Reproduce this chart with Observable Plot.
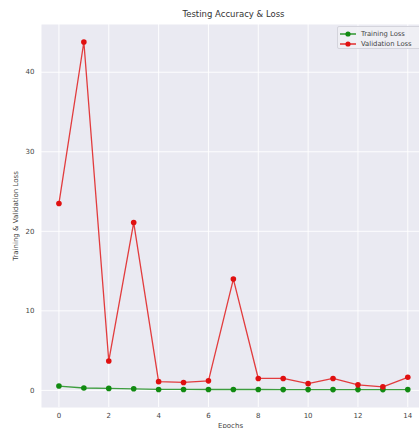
<!DOCTYPE html>
<html><head><meta charset="utf-8">
<script src="https://cdn.jsdelivr.net/npm/d3@7"></script>
<script src="https://cdn.jsdelivr.net/npm/@observablehq/plot@0.6"></script>
<style>
body{margin:0;background:#fff;font-family:"DejaVu Sans",sans-serif;}
#wrap{position:relative;width:419px;height:428px;overflow:hidden}
#wrap svg{display:block}
.legend{position:absolute;left:337px;top:26px;width:90px;height:23px;background:rgba(240,240,245,0.85);border:1px solid #d4d4dc;border-radius:2px;box-sizing:border-box;font:6.8px "DejaVu Sans",sans-serif;color:#444;}
.legend .row{position:absolute;left:2px;height:10px;display:flex;align-items:center}
.legend .row span{margin-left:5px;white-space:nowrap}
</style></head><body><div id="wrap"></div>
<script>
const epochs = [0,1,2,3,4,5,6,7,8,9,10,11,12,13,14];
const trainingLoss = [0.55,0.3,0.25,0.2,0.12,0.12,0.11,0.11,0.11,0.1,0.1,0.1,0.1,0.1,0.1];
const validationLoss = [23.5,43.8,3.7,21.1,1.1,1.0,1.2,14.0,1.5,1.5,0.85,1.5,0.7,0.45,1.65];
const xTicks = [0,2,4,6,8,10,12,14];
const yTicks = [0,10,20,30,40];
const seriesNames = ["Training Loss","Validation Loss"];
const titleText = "Testing Accuracy & Loss";
const xLabel = "Epochs";
const yLabel = "Training & Validation Loss";

const colors = ["#118a11","#e01010"];
const rows = [];
epochs.forEach((e,i)=>{rows.push({epoch:e,loss:trainingLoss[i],series:seriesNames[0]});});
epochs.forEach((e,i)=>{rows.push({epoch:e,loss:validationLoss[i],series:seriesNames[1]});});

const chart = Plot.plot({
  width: 419, height: 428,
  marginLeft: 41, marginRight: 0, marginTop: 24, marginBottom: 21,
  style: {fontFamily: "DejaVu Sans, sans-serif", fontSize: "7px", color: "#444", background: "white", overflow: "hidden"},
  x: {domain: [-0.7, 14.47], ticks: xTicks, tickSize: 0, tickPadding: 6, label: xLabel, labelAnchor: "center", labelArrow: "none", labelOffset: 20},
  y: {domain: [-2.15, 46], ticks: yTicks, tickSize: 0, tickPadding: 7, label: yLabel, labelAnchor: "center", labelArrow: "none", labelOffset: 28},
  color: {domain: seriesNames, range: colors},
  marks: [
    Plot.frame({fill: "#eaeaf2", stroke: null}),
    Plot.gridX(xTicks, {stroke: "white", strokeOpacity: 1, strokeWidth: 0.9}),
    Plot.gridY(yTicks, {stroke: "white", strokeOpacity: 1, strokeWidth: 0.9}),
    Plot.line(rows, {x: "epoch", y: "loss", z: "series", stroke: "series", strokeWidth: 1.3, strokeOpacity: 0.8}),
    Plot.dot(rows, {x: "epoch", y: "loss", fill: "series", r: 2.8}),
    Plot.text([titleText], {frameAnchor: "top", dy: -8, dx: 3, fontSize: 8.5, fill: "#333", lineAnchor: "bottom"})
  ]
});
const wrap = document.getElementById("wrap");
wrap.appendChild(chart);

const legend = document.createElement("div");
legend.className = "legend";
seriesNames.forEach((name,i)=>{
  const row = document.createElement("div");
  row.className = "row";
  row.style.top = (1.5 + i*10.5) + "px";
  row.innerHTML = `<svg width="16" height="8"><line x1="0" y1="4" x2="16" y2="4" stroke="${colors[i]}" stroke-width="1.3"/><circle cx="8" cy="4" r="2.6" fill="${colors[i]}"/></svg><span>${name}</span>`;
  legend.appendChild(row);
});
wrap.appendChild(legend);
</script>
</body></html>
